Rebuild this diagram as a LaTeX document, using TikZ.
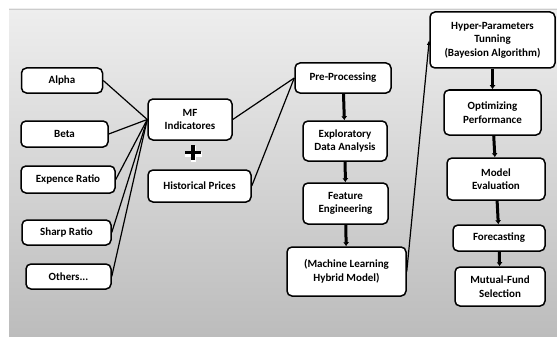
\documentclass[tikz,border=0pt]{standalone}
\usepackage{fontspec}
\setmainfont{Carlito}
\usetikzlibrary{arrows.meta}

\definecolor{bgtop}{RGB}{238,238,238}
\definecolor{bgbot}{RGB}{188,188,188}

\begin{document}
\begin{tikzpicture}[x=1pt, y=-1pt,
  main/.style = {draw, line width=1.5pt, rounded corners=5pt, fill=white,
    align=center, inner sep=2pt, font=\fontsize{11}{13.5}\selectfont\bfseries},
  link/.style = {line width=1.2pt},
  flow/.style = {line width=3pt, -{Latex[length=4pt, width=6pt]}}]
  \useasboundingbox (0,0) rectangle (557,337);
  \fill[white] (0,0) rectangle (557,337);
  \shade[top color=bgtop, bottom color=bgbot] (9,9) rectangle (557,337);
  \draw[gray!40] (9,9) -- (557,9);

  % inputs
  \node[main, minimum width=81, minimum height=25] (alpha) at (62,80.5) {Alpha};
  \node[main, minimum width=87, minimum height=26] (beta) at (64.5,134) {Beta};
  \node[main, minimum width=94, minimum height=27] (exp) at (68,179.5) {Expence Ratio};
  \node[main, minimum width=89, minimum height=25] (sharp) at (66.5,232.5) {Sharp Ratio};
  \node[main, minimum width=85, minimum height=25] (others) at (68.5,276.5) {Others...};
  \node[main, minimum width=84, minimum height=41] (mf) at (190,119.5) {MF\\Indicatores};
  \node[main, minimum width=103, minimum height=32] (hp) at (199.5,186) {Historical Prices};

  % plus sign
  \draw[white, line width=5pt] (185,154) -- (202,154) (193.5,146) -- (193.5,162);
  \draw[line width=3.5pt] (185,152.5) -- (201,152.5) (193,145) -- (193,160);

  % pipeline
  \node[main, minimum width=96, minimum height=30] (pre) at (343,78) {Pre-Processing};
  \node[main, minimum width=84, minimum height=40] (eda) at (345,141) {Exploratory\\Data Analysis};
  \node[main, minimum width=85, minimum height=41] (fe) at (345.5,203.5) {Feature\\Engineering};
  \node[main, minimum width=119, minimum height=49] (ml) at (346.5,271.5) {(Machine Learning\\Hybrid Model)};
  \node[main, minimum width=125, minimum height=56] (hyper) at (492.5,40) {Hyper-Parameters\\Tunning\\(Bayesion Algorithm)};
  \node[main, minimum width=97, minimum height=45] (opt) at (492.5,112.5) {Optimizing\\Performance};
  \node[main, minimum width=98, minimum height=42] (eval) at (496,179) {Model\\Evaluation};
  \node[main, minimum width=92, minimum height=26] (fore) at (499,238) {Forecasting};
  \node[main, minimum width=90, minimum height=39] (mutual) at (500,286.5) {Mutual-Fund\\Selection};

  \draw[link] (alpha.east) -- (mf.west);
  \draw[link] (beta.east) -- (mf.west);
  \draw[link] (exp.east) -- (mf.west);
  \draw[link] (sharp.east) -- (mf.west);
  \draw[link] (others.east) -- (mf.west);
  \draw[link] (mf.east) -- (pre.west);
  \draw[link] (hp.east) -- (pre.west);
  \draw[link, -{Latex[length=5pt, width=4pt]}] (ml.east) -- (hyper.west);

  \draw[flow] (pre) -- (eda);
  \draw[flow] (eda) -- (fe);
  \draw[flow] (fe) -- (ml);
  \draw[flow] (hyper) -- (opt);
  \draw[flow] (opt) -- (eval);
  \draw[flow] (eval) -- (fore);
  \draw[flow] (fore) -- (mutual);
\end{tikzpicture}
\end{document}
